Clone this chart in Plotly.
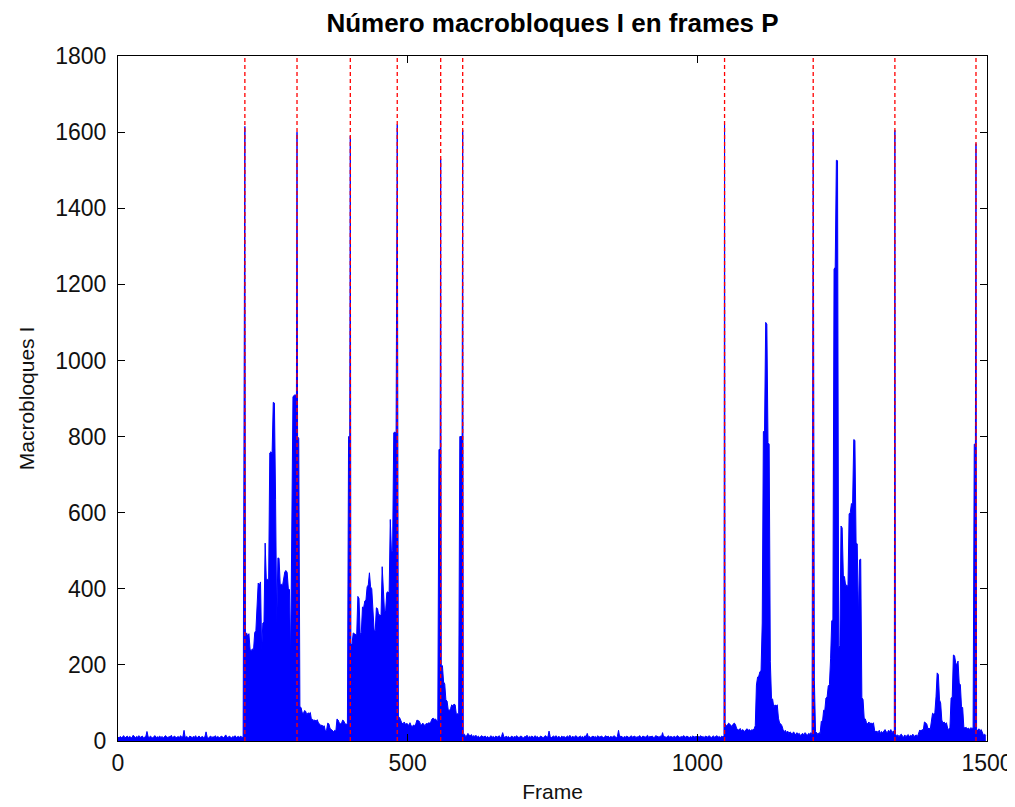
import plotly.graph_objects as go

# ---------------- data ----------------
STEP = 2  # frame spacing of the values inside each segment

# I-frame positions (red dashed markers) and the count of I macroblocks there
iframe_positions = [219, 309, 401, 482, 557, 595, 1047, 1200, 1341, 1481]
iframe_values = [1615, 1600, 1590, 1620, 1530, 1605, 1620, 1610, 1605, 1570]

seg_starts = [0, 220, 310, 402, 484, 558, 596, 1048, 1102, 1202, 1342, 1482]

seg_0 = [10, 8, 12, 9, 11, 14, 8, 10, 13, 9,
         12, 10, 8, 15, 11, 9, 12, 10, 14, 9,
         11, 13, 8, 10, 12, 25, 11, 9, 13, 10,
         8, 12, 14, 9, 11, 10, 13, 9, 12, 8,
         10, 14, 11, 9, 12, 10, 15, 9, 11, 13,
         8, 10, 12, 9, 14, 10, 11, 28, 9, 12,
         10, 8, 13, 11, 9, 12, 10, 14, 8, 11,
         13, 9, 10, 12, 9, 11, 24, 10, 8, 12,
         13, 9, 11, 10, 14, 9, 12, 10, 8, 13,
         11, 9, 12, 16, 10, 9, 13, 11, 8, 12,
         10, 14, 9, 11, 12, 10, 13, 9, 11]

seg_220 = [280, 284, 275, 282, 240, 238, 242, 240, 285, 290,
           358, 415, 410, 418, 236, 310, 312, 520, 423, 425,
           420, 757, 760, 755, 890, 888, 634, 307, 481, 480,
           410, 412, 408, 435, 445, 448, 443, 400, 398, 213,
           503, 905, 908, 910, 905]

seg_310 = [800, 795, 90, 88, 74, 72, 80, 78, 68, 74,
           72, 75, 55, 57, 54, 55, 52, 56, 47, 45,
           40, 42, 38, 40, 26, 28, 47, 45, 33, 30,
           26, 25, 28, 26, 58, 55, 47, 45, 48, 55,
           52, 45, 44, 46, 800, 800]

seg_402 = [252, 255, 284, 282, 280, 278, 380, 375, 280, 285,
           352, 350, 368, 370, 405, 410, 442, 405, 400, 352,
           292, 290, 350, 348, 330, 332, 328, 458, 400, 340,
           342, 390, 392, 388, 582, 497, 500, 810, 812, 808]

seg_484 = [60, 62, 55, 47, 45, 50, 44, 46, 45, 40,
           48, 40, 38, 42, 40, 45, 55, 54, 52, 45,
           42, 47, 44, 40, 46, 45, 48, 47, 50, 58,
           60, 57, 58, 52, 50, 766, 766]

seg_558 = [200, 198, 155, 150, 108, 105, 82, 80, 85, 95,
           92, 97, 95, 70, 72, 68, 800, 800, 800]

seg_596 = [15, 18, 12, 14, 20, 16, 13, 17, 11, 14,
           12, 15, 10, 13, 9, 12, 14, 10, 11, 13,
           9, 12, 8, 11, 14, 10, 12, 9, 13, 11,
           10, 14, 9, 12, 22, 11, 9, 13, 10, 12,
           8, 11, 13, 9, 12, 10, 14, 11, 9, 12,
           13, 10, 8, 12, 11, 15, 9, 12, 10, 13,
           11, 9, 14, 10, 12, 8, 11, 13, 10, 9,
           12, 14, 11, 10, 26, 12, 9, 11, 13, 10,
           14, 9, 12, 11, 8, 13, 10, 12, 9, 11,
           13, 10, 15, 9, 12, 11, 10, 14, 12, 9,
           11, 13, 10, 12, 9, 14, 11, 20, 10, 12,
           9, 11, 13, 10, 12, 8, 14, 11, 10, 13,
           12, 9, 11, 14, 10, 13, 9, 12, 11, 10,
           14, 11, 9, 12, 28, 10, 13, 11, 9, 12,
           10, 13, 12, 9, 11, 14, 10, 12, 13, 9,
           11, 10, 14, 12, 9, 13, 11, 10, 12, 15,
           9, 12, 11, 13, 10, 9, 14, 12, 11, 10,
           13, 11, 22, 10, 12, 9, 11, 14, 10, 12,
           11, 9, 13, 10, 12, 14, 11, 9, 12, 10,
           14, 12, 10, 13, 11, 9, 12, 10, 13, 11,
           10, 13, 9, 12, 11, 14, 10, 12, 9, 13,
           12, 10, 14, 11, 9, 12, 13, 10, 11, 14,
           10, 12, 9, 13, 11, 12]

seg_1048 = [45, 40, 42, 47, 44, 40, 38, 45, 47, 42,
            32, 30, 28, 33, 26, 30, 28, 25, 30, 32,
            28, 30, 26, 30, 28, 32, 40]

seg_1102 = [147, 168, 170, 182, 185, 310, 813, 815, 1100, 1095,
            784, 780, 208, 113, 110, 88, 95, 92, 95, 60,
            47, 45, 40, 30, 25, 28, 22, 26, 20, 24,
            22, 18, 24, 20, 16, 22, 18, 20, 14, 18,
            20, 16, 22, 18, 15, 20, 18, 22, 16]

seg_1202 = [160, 25, 20, 18, 22, 20, 52, 50, 81, 80,
            113, 115, 145, 148, 216, 316, 318, 1240, 1245, 1526,
            1525, 245, 250, 565, 560, 434, 432, 408, 410, 405,
            597, 600, 624, 620, 792, 790, 521, 518, 321, 476,
            478, 113, 110, 60, 58, 48, 45, 50, 46, 47,
            45, 48, 28, 24, 26, 22, 28, 20, 25, 22,
            26, 30, 24, 22, 28, 25, 30, 22, 26, 24]

seg_1342 = [18, 14, 16, 12, 15, 18, 13, 10, 16, 12,
            14, 17, 11, 15, 13, 18, 12, 14, 16, 12,
            22, 29, 26, 30, 28, 50, 48, 45, 32, 34,
            30, 55, 73, 70, 75, 116, 179, 175, 108, 100,
            55, 47, 50, 45, 48, 34, 30, 34, 113, 115,
            226, 224, 205, 200, 210, 152, 148, 90, 88, 36,
            34, 36, 32, 34, 30, 35, 33, 34, 780, 780]

seg_1482 = [30, 28, 32, 27, 30, 20, 15, 18, 14]

segments = [seg_0, seg_220, seg_310, seg_402, seg_484, seg_558,
            seg_596, seg_1048, seg_1102, seg_1202, seg_1342, seg_1482]

x_ticks = [0, 500, 1000, 1500]
y_ticks = [0, 200, 400, 600, 800, 1000, 1200, 1400, 1600, 1800]

# ---------------- assemble series ----------------
pts = []
for start, vals in zip(seg_starts, segments):
    for i, v in enumerate(vals):
        pts.append((start + STEP * i, v))
for f, v in zip(iframe_positions, iframe_values):
    pts.append((f, v))
pts.sort(key=lambda p: p[0])
xs = [p[0] for p in pts]
ys = [p[1] for p in pts]

rx, ry = [], []
for f in iframe_positions:
    rx += [f, f, None]
    ry += [0, 1800, None]

BLUE = "#0000FF"
RED = "#FF0000"
FONT = "Liberation Sans, Arial, sans-serif"
TICK_SIZE = 23
LABEL_SIZE = 21

# The page body adds an 8px margin, so the figure is sized to fit the window
W, H = 1007, 799

fig = go.Figure()
fig.add_trace(go.Scatter(x=xs, y=ys, mode="lines", fill="tozeroy",
                         fillcolor=BLUE, line=dict(color=BLUE, width=1),
                         hoverinfo="skip", showlegend=False))
fig.add_trace(go.Scatter(x=rx, y=ry, mode="lines",
                         line=dict(color=RED, width=1.3, dash="4px,3px"),
                         hoverinfo="skip", showlegend=False))

axis_common = dict(showline=True, linecolor="black", linewidth=1, mirror="ticks",
                   ticks="inside", ticklen=7, tickcolor="black", tickwidth=1,
                   showgrid=False, zeroline=False, automargin=False,
                   tickfont=dict(family=FONT, size=TICK_SIZE, color="#111111"))

fig.update_layout(
    width=W, height=H,
    margin=dict(l=110, r=28, t=48, b=66, autoexpand=False),
    paper_bgcolor="white", plot_bgcolor="white",
    title=dict(text="<b>Número macrobloques I en frames P</b>",
               x=(110 + 979) / 2 / W, xanchor="center",
               y=1 - 15 / H, yanchor="middle", yref="container",
               font=dict(family=FONT, size=26, color="black"), automargin=False),
    xaxis=dict(range=[0, 1500], tickvals=x_ticks, ticktext=[str(v) for v in x_ticks],
               ticklabelstandoff=1,
               title=dict(text="Frame", font=dict(family=FONT, size=LABEL_SIZE, color="#111111"),
                          standoff=9),
               **axis_common),
    yaxis=dict(range=[0, 1800], tickvals=y_ticks, ticktext=[str(v) for v in y_ticks],
               ticklabelstandoff=6,
               title=dict(text="Macrobloques I", font=dict(family=FONT, size=LABEL_SIZE, color="#111111"),
                          standoff=14),
               **axis_common),
)

fig.write_html("out.html")
